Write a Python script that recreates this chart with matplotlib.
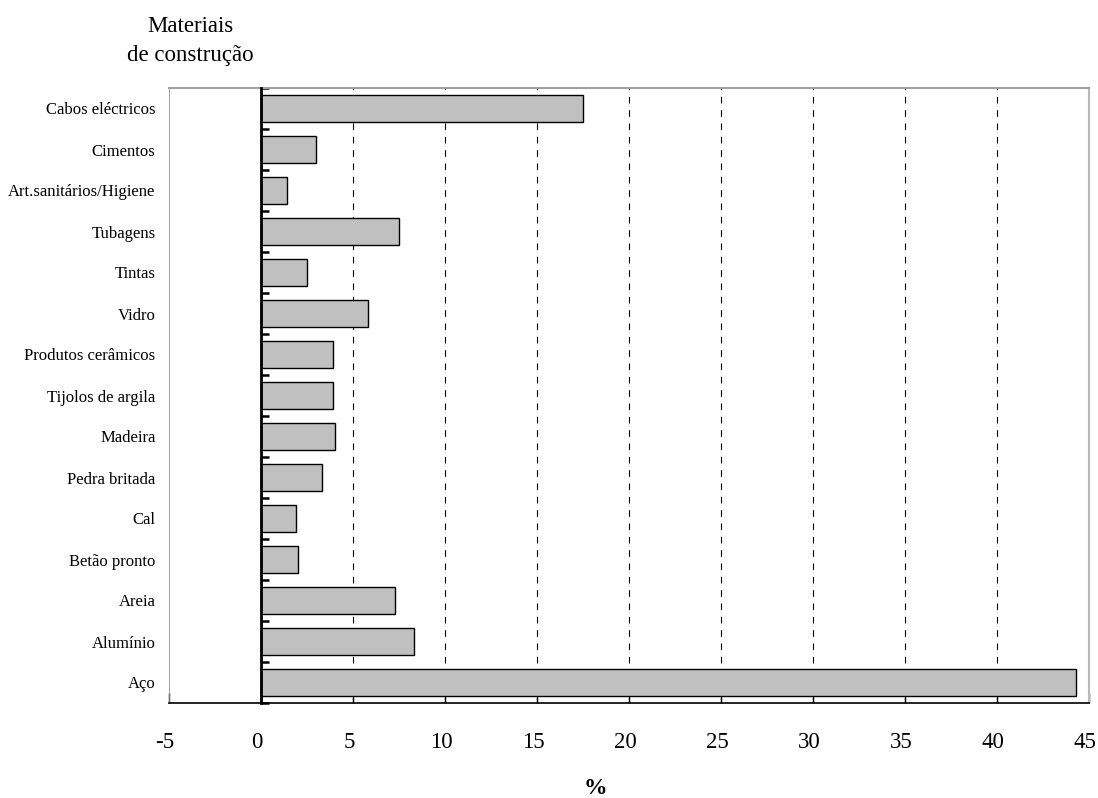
import matplotlib
matplotlib.use("Agg")
import matplotlib.pyplot as plt
import matplotlib.transforms as mtransforms
import numpy as np

categories = ["Aço", "Alumínio", "Areia", "Betão pronto", "Cal", "Pedra britada",
              "Madeira", "Tijolos de argila", "Produtos cerâmicos", "Vidro", "Tintas",
              "Tubagens", "Art.sanitários/Higiene", "Cimentos", "Cabos eléctricos"]
values = [44.3, 8.3, 7.3, 2.0, 1.9, 3.3, 4.0, 3.9, 3.9, 5.8, 2.5, 7.5, 1.4, 3.0, 17.5]
xticks = [-5, 0, 5, 10, 15, 20, 25, 30, 35, 40, 45]

plt.rcParams['font.family'] = ['Liberation Serif', 'DejaVu Serif']

fig = plt.figure(figsize=(10.98, 7.98), dpi=100)
ax = fig.add_axes([169/1098, 1-703/798, (1089-169)/1098, (703-88)/798])

y = np.arange(len(categories))
ax.barh(y, values, height=0.68, color="#c0c0c0", edgecolor="black", linewidth=1, zorder=3)

ax.set_xlim(-5, 45)
ax.set_ylim(-0.5, len(categories) - 0.5)

# grid
for v in xticks[2:-1]:
    ax.axvline(v, color="black", linestyle=(0, (6, 6)), linewidth=0.8, zorder=1)
ax.axvline(-5, color="#909090", linewidth=1.2, zorder=2)
ax.axvline(45, color="#707070", linestyle=(0, (6, 6)), linewidth=1.2, zorder=2, clip_on=False)

# spines
ax.spines['left'].set_position(('data', 0))
ax.spines['left'].set_linewidth(2)
ax.spines['left'].set_color('black')
ax.spines['left'].set_zorder(4)
ax.spines['top'].set_color('#a0a0a0')
ax.spines['top'].set_linewidth(1.5)
ax.spines['right'].set_color('#b8b8b8')
ax.spines['right'].set_linewidth(1.5)
ax.spines['bottom'].set_color('black')
ax.spines['bottom'].set_linewidth(1.2)

ax.set_xticks(xticks)
ax.set_xticklabels([str(t) for t in xticks], fontsize=16.5)
ax.tick_params(axis='x', direction='in', length=7, width=1, pad=21)
offset = mtransforms.ScaledTranslation(-4/100, 0, fig.dpi_scale_trans)
for lbl in ax.get_xticklabels():
    lbl.set_transform(lbl.get_transform() + offset)

ax.set_yticks(y)
ax.set_yticklabels(categories, fontsize=12)
ax.tick_params(axis='y', which='major', length=0, pad=76)
ax.set_yticks(np.arange(len(categories) + 1) - 0.5, minor=True)
ax.tick_params(axis='y', which='minor', direction='in', length=6, width=1.8, color='black')

fig.text(190/1098, 1-41/798, "Materiais\nde construção", ha='center', va='center',
         fontsize=16.5, linespacing=1.5)
fig.text(595/1098, 1-789/798, "%", ha='center', va='center', fontsize=17, fontweight='bold')

fig.savefig("out.png", dpi=100)
